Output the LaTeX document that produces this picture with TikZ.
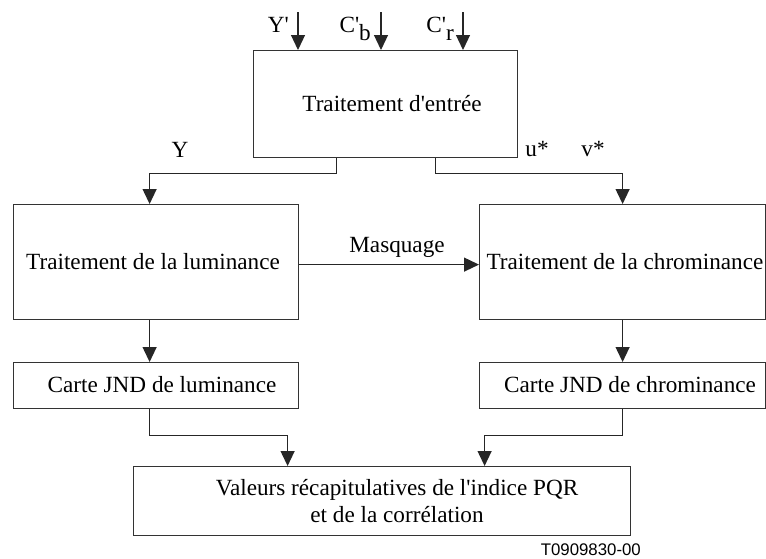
\documentclass[tikz,border=0pt]{standalone}
\usepackage{fontspec}
\setmainfont{Liberation Serif}
\newfontfamily\labelsans{Liberation Sans}
\usetikzlibrary{arrows.meta}
\begin{document}
\begin{tikzpicture}[x=1pt,y=-1pt,
  box/.style={draw=black!80,line width=1.2pt,inner sep=0pt,anchor=north west},
  arr/.style={draw=black!85,line width=1.2pt,-{Triangle[length=15pt,width=14pt]}},
  txt/.style={inner sep=0pt,font=\fontsize{23.2}{27}\selectfont},
  every node/.append style={text=black}]
\useasboundingbox (0,0) rectangle (766,558);

% processing blocks
\node[box,minimum width=264pt,minimum height=107pt] (inp)  at (253,50)  {};
\node[box,minimum width=285pt,minimum height=115pt] (lum)  at (13,204)  {};
\node[box,minimum width=286pt,minimum height=115pt] (chr)  at (479,204) {};
\node[box,minimum width=285pt,minimum height=46pt]  (jndl) at (13,362)  {};
\node[box,minimum width=286pt,minimum height=46pt]  (jndc) at (479,362) {};
\node[box,minimum width=497pt,minimum height=69pt]  (res)  at (133,466) {};

% block captions
\node[txt] (tinp)  at (392,103.5) {Traitement d\textquotesingle entrée};
\node[txt] (tlum)  at (153,261.5) {Traitement de la luminance};
\node[txt] (tchr)  at (625,261.5) {Traitement de la chrominance};
\node[txt] (tjndl) at (162,385)   {Carte JND de luminance};
\node[txt] (tjndc) at (630,385)   {Carte JND de chrominance};
\node[txt,align=center] (tres) at (397,501)
  {Valeurs récapitulatives de l\textquotesingle indice PQR\\et de la corrélation};

% input signals
\coordinate (iy) at (298,12);
\coordinate (ib) at (381,12);
\coordinate (ir) at (463,12);
\draw[arr] (iy) -- (iy |- inp.north);
\draw[arr] (ib) -- (ib |- inp.north);
\draw[arr] (ir) -- (ir |- inp.north);
\node[txt,anchor=base east] (ly) at (289,32) {Y\textquotesingle};
\node[txt,anchor=base east] (lb) at (371,32) {C\textquotesingle\raisebox{-8pt}{b}};
\node[txt,anchor=base east] (lr) at (454,32) {C\textquotesingle\raisebox{-8pt}{r}};

% outputs of the input stage
\draw[arr] ([xshift=-49pt]inp.south) -- ++(0,15) -| ([xshift=-6.5pt]lum.north);
\draw[arr] ([xshift=50pt]inp.south) -- ++(0,15) -| (chr.north);
\node[txt,anchor=base] (lY) at (180,157) {Y};
\node[txt,anchor=base] (lu) at (537,156) {u*};
\node[txt,anchor=base] (lv) at (593,156) {v*};

% masking between the two branches
\draw[arr] ([yshift=-2.5pt]lum.east) -- ([yshift=-2.5pt]chr.west);
\node[txt,anchor=base] (lm) at (397,252) {Masquage};

% JND maps
\draw[arr] ([xshift=-6.5pt]lum.south) -- ([xshift=-6.5pt]jndl.north);
\draw[arr] (chr.south) -- (jndc.north);

% towards the summary block
\draw[arr] ([xshift=-6.5pt]jndl.south) -- ++(0,26) -| ([xshift=-94.5pt]res.north);
\draw[arr] (jndc.south) -- ++(0,26) -| ([xshift=102.5pt]res.north);

\node[inner sep=0pt,anchor=east,font=\labelsans\fontsize{16.8}{20}\selectfont] (ref) at (641,550) {T0909830-00};
\end{tikzpicture}
\end{document}
